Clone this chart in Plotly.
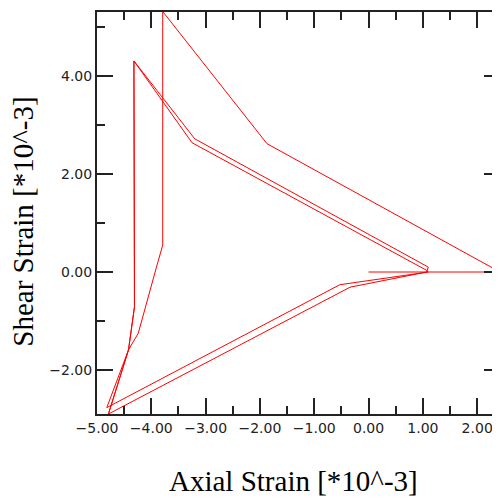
import plotly.graph_objects as go

# Strain path [*10^-3]
axial_strain = [0.00, 1.10, -0.53, -4.82, -4.42, -4.31, -4.32, -3.20, 1.10, 1.07,
                -0.34, -4.79, -4.42, -4.31, -4.32, -3.25, 1.06, 1.10, 2.42,
                -1.87, -3.79, -3.79, -3.88, -4.02, -4.24, -4.42, -4.79]
shear_strain = [0.00, 0.00, -0.26, -2.77, -1.59, -0.71, 4.31, 2.72, 0.10, 0.00,
                -0.31, -2.90, -1.59, -0.71, 4.31, 2.64, 0.04, 0.00, 0.00,
                2.62, 5.32, 0.55, 0.20, -0.37, -1.25, -1.59, -2.90]

fig = go.Figure()
fig.add_trace(go.Scatter(x=axial_strain, y=shear_strain, mode='lines',
                         line=dict(color='#ff0000', width=1), showlegend=False))

tick_font = dict(family='DejaVu Sans', size=14, color='#222')
title_font = dict(family='Liberation Serif', size=29, color='#000')

# page body adds an 8px offset, so margins are shifted to compensate
fig.update_layout(
    width=500, height=499,
    margin=dict(l=89, r=8, t=4, b=93, pad=0),
    paper_bgcolor='white', plot_bgcolor='white',
)

# axis titles placed as annotations to match the reference position
fig.add_annotation(text='Axial Strain [*10^-3]', xref='paper', yref='paper',
                   x=0.488, y=-0.167, xanchor='center', yanchor='middle',
                   showarrow=False, font=title_font)
fig.add_annotation(text='Shear Strain [*10^-3]', xref='paper', yref='paper',
                   x=-0.184, y=0.478, xanchor='center', yanchor='middle',
                   textangle=-90, showarrow=False, font=title_font)

fig.update_xaxes(
    range=[-5.0, 2.42], tick0=-5, dtick=1, tickformat='.2f', automargin=False,
    ticks='inside', ticklen=16, tickwidth=2, tickcolor='#222',
    minor=dict(ticks='inside', dtick=0.5, ticklen=8, tickwidth=2, tickcolor='#222'),
    showline=True, linewidth=2, linecolor='#222', mirror='ticks',
    showgrid=False, zeroline=False, tickfont=tick_font,
)
fig.update_yaxes(
    range=[-2.90, 5.31], tick0=0, dtick=2, tickformat='.2f', automargin=False,
    ticks='inside', ticklen=16, tickwidth=2, tickcolor='#222',
    minor=dict(ticks='inside', dtick=1, ticklen=8, tickwidth=2, tickcolor='#222'),
    showline=True, linewidth=2, linecolor='#222', mirror='ticks',
    showgrid=False, zeroline=False, tickfont=tick_font,
)

fig.write_html("out.html")
